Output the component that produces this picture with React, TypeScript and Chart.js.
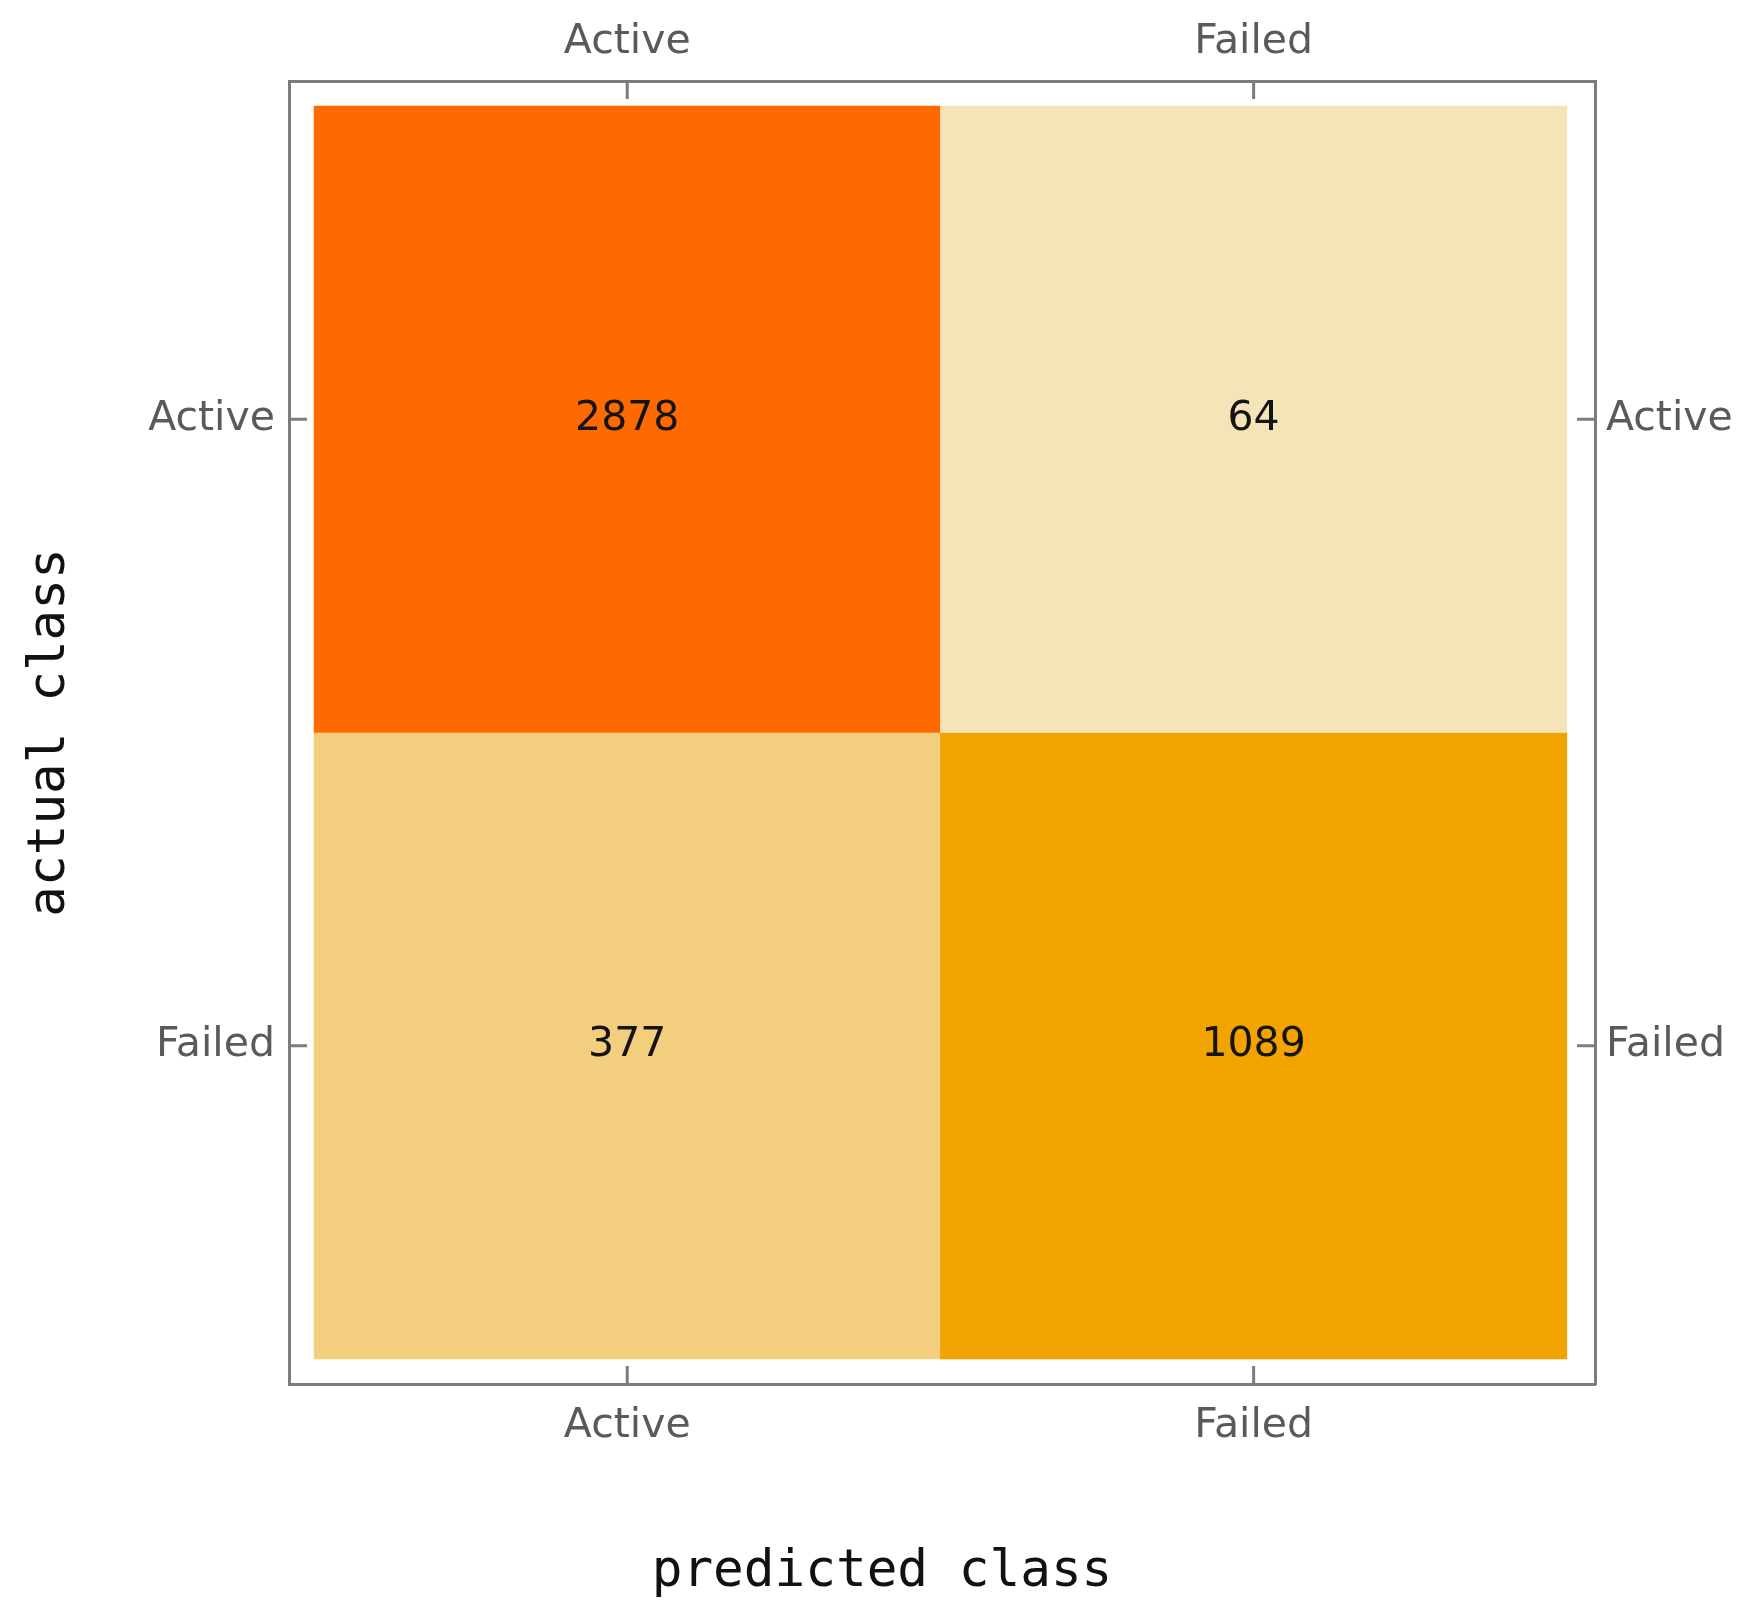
import React, { useEffect, useRef } from "react";
import { Chart, registerables } from "chart.js";

Chart.register(...registerables);

// ---- data ----
const predictedClasses = ["Active", "Failed"];
const actualClasses = ["Active", "Failed"];
const activeRowCounts = [2878, 64];
const failedRowCounts = [377, 1089];
const activeRowColors = ["rgb(255,106,0)", "rgb(245,228,184)"];
const failedRowColors = ["rgb(243,206,126)", "rgb(243,163,0)"];

const FRAME = "#7d7d7d";
const LABEL = "#5a5a5a";
const TICK_FONT = { family: "'DejaVu Sans', Verdana, sans-serif", size: 41 };
const MONO_FONT = { family: "'DejaVu Sans Mono', monospace", size: 51, weight: "normal" };

const rowCounts = [activeRowCounts, failedRowCounts];
const rowColors = [activeRowColors, failedRowColors];

const cellLabels = {
  id: "cellLabels",
  afterDatasetsDraw(chart: any) {
    const ctx = chart.ctx;
    ctx.save();
    ctx.fillStyle = "#141414";
    ctx.font = `41px 'DejaVu Sans', Verdana, sans-serif`;
    ctx.textAlign = "center";
    ctx.textBaseline = "middle";
    chart.data.datasets.forEach((ds: any, di: number) => {
      const meta = chart.getDatasetMeta(di);
      meta.data.forEach((bar: any, i: number) => {
        const p = bar.getCenterPoint();
        ctx.fillText(String(ds.counts[i]), p.x, p.y);
      });
    });
    ctx.restore();
  },
};

const innerTicks = {
  id: "innerTicks",
  afterDraw(chart: any) {
    const { ctx, chartArea, scales } = chart;
    const L = 18;
    ctx.save();
    ctx.strokeStyle = FRAME;
    ctx.lineWidth = 3;
    ctx.beginPath();
    scales.x.ticks.forEach((_t: any, i: number) => {
      const px = scales.x.getPixelForTick(i);
      ctx.moveTo(px, chartArea.bottom);
      ctx.lineTo(px, chartArea.bottom - L);
    });
    scales.x2.ticks.forEach((_t: any, i: number) => {
      const px = scales.x2.getPixelForTick(i);
      ctx.moveTo(px, chartArea.top);
      ctx.lineTo(px, chartArea.top + L);
    });
    scales.y.ticks.forEach((_t: any, i: number) => {
      const py = scales.y.getPixelForTick(i);
      ctx.moveTo(chartArea.left, py);
      ctx.lineTo(chartArea.left + L, py);
    });
    scales.y2.ticks.forEach((_t: any, i: number) => {
      const py = scales.y2.getPixelForTick(i);
      ctx.moveTo(chartArea.right, py);
      ctx.lineTo(chartArea.right - L, py);
    });
    ctx.stroke();
    ctx.restore();
  },
};

const setTicks = (s: any) => {
  s.ticks = predictedClasses.map((_, i) => ({ value: i }));
};

export default function App() {
  const ref = useRef<HTMLCanvasElement>(null);

  useEffect(() => {
    if (!ref.current) return;
    const datasets = actualClasses.map((name, r) => ({
      label: name,
      data: predictedClasses.map((_, c) => ({ x: c, y: [r - 0.5, r + 0.5] })),
      counts: rowCounts[r],
      backgroundColor: rowColors[r],
      borderWidth: 0,
      grouped: false,
      barPercentage: 1,
      categoryPercentage: 1,
    }));

    const border = { display: true, color: FRAME, width: 3 };
    const chart = new Chart(ref.current, {
      type: "bar",
      data: { datasets: datasets as any },
      options: {
        animation: false,
        responsive: false,
        devicePixelRatio: 1,
        layout: { padding: 0 },
        plugins: {
          legend: { display: false },
          tooltip: { enabled: false },
          title: {
            display: true,
            position: "bottom",
            text: "predicted class",
            font: MONO_FONT as any,
            color: "#111",
            padding: { top: 0, bottom: 3 },
          },
        },
        scales: {
          x: {
            type: "linear",
            position: "bottom",
            offset: false,
            min: -0.54,
            max: 1.545,
            afterBuildTicks: setTicks,
            afterFit: (s: any) => { s.height = 157.8; },
            grid: { display: false, offset: false },
            border,
            ticks: {
              callback: (_v: any, i: number) => predictedClasses[i],
              font: TICK_FONT as any,
              color: LABEL,
              padding: 10,
              maxRotation: 0,
            },
          },
          x2: {
            type: "linear",
            position: "top",
            offset: false,
            min: -0.54,
            max: 1.545,
            afterBuildTicks: setTicks,
            afterFit: (s: any) => { s.height = 81; },
            grid: { display: false, offset: false },
            border,
            ticks: {
              callback: (_v: any, i: number) => predictedClasses[i],
              font: TICK_FONT as any,
              color: LABEL,
              padding: 6,
              maxRotation: 0,
            },
          },
          y: {
            type: "linear",
            position: "left",
            reverse: true,
            offset: false,
            min: -0.54,
            max: 1.54,
            afterBuildTicks: setTicks,
            afterFit: (s: any) => { s.width = 289; },
            grid: { display: false },
            border,
            title: {
              display: true,
              text: "actual class",
              font: MONO_FONT as any,
              color: "#111",
              padding: { top: 20, bottom: 0 },
            },
            ticks: {
              callback: (_v: any, i: number) => actualClasses[i],
              font: TICK_FONT as any,
              color: LABEL,
              padding: 6,
            },
          },
          y2: {
            type: "linear",
            position: "right",
            reverse: true,
            offset: false,
            min: -0.54,
            max: 1.54,
            afterBuildTicks: setTicks,
            afterFit: (s: any) => { s.width = 169; },
            grid: { display: false },
            border,
            ticks: {
              callback: (_v: any, i: number) => actualClasses[i],
              font: TICK_FONT as any,
              color: LABEL,
              padding: 3,
            },
          },
        },
      } as any,
      plugins: [cellLabels, innerTicks],
    });
    return () => chart.destroy();
  }, []);

  return (
    <div style={{ position: "absolute", left: 0, top: 0, width: 1764, height: 1606, background: "#fff" }}>
      <canvas ref={ref} width={1764} height={1606} style={{ display: "block" }} />
    </div>
  );
}
